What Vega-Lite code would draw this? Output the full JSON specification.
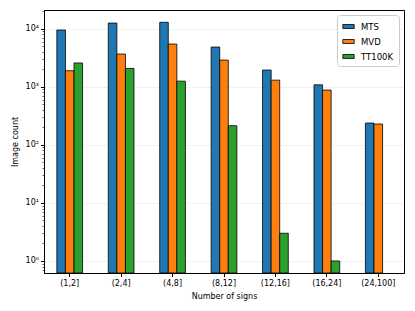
{
  "$schema": "https://vega.github.io/schema/vega-lite/v6.json",
  "width": 360,
  "height": 263,
  "autosize": {"type": "none"},
  "padding": {"left": 44, "top": 10, "right": 11, "bottom": 38},
  "config": {
    "font": "DejaVu Sans",
    "view": {"stroke": "black", "strokeWidth": 1},
    "axis": {"labelFont": "DejaVu Sans", "titleFont": "DejaVu Sans", "labelFontSize": 8, "titleFontSize": 8, "titleFontWeight": "normal", "labelColor": "black", "titleColor": "black", "tickColor": "black", "domainColor": "black"}
  },
  "data": {
    "values": [
      {"bin": "(1,2]", "dataset": "MTS", "count": 9500},
      {"bin": "(1,2]", "dataset": "MVD", "count": 1890},
      {"bin": "(1,2]", "dataset": "TT100K", "count": 2570},
      {"bin": "(2,4]", "dataset": "MTS", "count": 12500},
      {"bin": "(2,4]", "dataset": "MVD", "count": 3660},
      {"bin": "(2,4]", "dataset": "TT100K", "count": 2070},
      {"bin": "(4,8]", "dataset": "MTS", "count": 12900},
      {"bin": "(4,8]", "dataset": "MVD", "count": 5440},
      {"bin": "(4,8]", "dataset": "TT100K", "count": 1250},
      {"bin": "(8,12]", "dataset": "MTS", "count": 4830},
      {"bin": "(8,12]", "dataset": "MVD", "count": 2880},
      {"bin": "(8,12]", "dataset": "TT100K", "count": 213},
      {"bin": "(12,16]", "dataset": "MTS", "count": 1940},
      {"bin": "(12,16]", "dataset": "MVD", "count": 1300},
      {"bin": "(12,16]", "dataset": "TT100K", "count": 3},
      {"bin": "(16,24]", "dataset": "MTS", "count": 1080},
      {"bin": "(16,24]", "dataset": "MVD", "count": 877},
      {"bin": "(16,24]", "dataset": "TT100K", "count": 1},
      {"bin": "(24,100]", "dataset": "MTS", "count": 237},
      {"bin": "(24,100]", "dataset": "MVD", "count": 228}
    ]
  },
  "layer": [
    {
      "mark": {"type": "bar", "stroke": "black", "strokeWidth": 0.8},
      "encoding": {
        "x": {"field": "bin", "type": "nominal", "sort": null,
          "scale": {"paddingInner": 0.5, "paddingOuter": 0.25},
          "axis": {"title": "Number of signs", "labelAngle": 0, "tickSize": 3.5, "labelPadding": 3, "titlePadding": 5}},
        "xOffset": {"field": "dataset", "type": "nominal", "scale": {"domain": ["MTS", "MVD", "TT100K"]}},
        "y": {"field": "count", "type": "quantitative",
          "scale": {"type": "log", "domain": [0.62, 21000], "nice": false},
          "axis": {"title": "Image count", "values": [1, 10, 100, 1000, 10000],
            "labelExpr": "datum.value == 1 ? '10⁰' : datum.value == 10 ? '10¹' : datum.value == 100 ? '10²' : datum.value == 1000 ? '10³' : '10⁴'",
            "tickSize": 3.5, "labelPadding": 2, "titlePadding": 6,
            "grid": true, "gridColor": "#dddddd", "gridDash": [2, 2], "gridWidth": 0.8}},
        "y2": {"datum": 0.62},
        "color": {"field": "dataset", "type": "nominal",
          "scale": {"domain": ["MTS", "MVD", "TT100K"], "range": ["#1f77b4", "#ff7f0e", "#2ca02c"]},
          "legend": {"title": null, "orient": "top-right", "offset": 5, "fillColor": "white", "strokeColor": "#cccccc", "cornerRadius": 3, "padding": 5,
            "symbolType": "M-1,-0.35H1V0.35H-1Z", "symbolSize": 130, "symbolStrokeColor": "black", "symbolStrokeWidth": 0.8, "symbolOpacity": 1,
            "labelFontSize": 8.5, "labelFont": "DejaVu Sans", "rowPadding": 4, "labelOffset": 6}}
      }
    },
    {
      "mark": {"type": "point", "opacity": 0},
      "encoding": {
        "y": {"field": "count", "type": "quantitative",
          "scale": {"type": "log", "domain": [0.62, 21000], "nice": false},
          "axis": {"orient": "left", "title": null, "labels": false, "grid": false, "domain": false, "tickSize": 2, "tickWidth": 0.6,
            "values": [0.7, 0.8, 0.9, 2, 3, 4, 5, 6, 7, 8, 9, 20, 30, 40, 50, 60, 70, 80, 90, 200, 300, 400, 500, 600, 700, 800, 900, 2000, 3000, 4000, 5000, 6000, 7000, 8000, 9000, 20000]}}
      }
    }
  ],
  "resolve": {"axis": {"y": "independent"}}
}
